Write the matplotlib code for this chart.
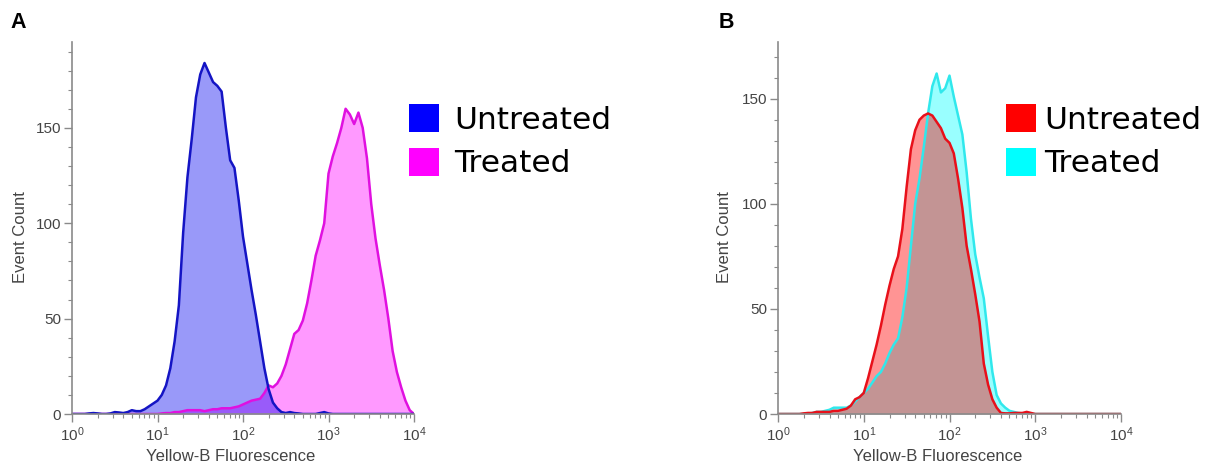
import numpy as np
import matplotlib
matplotlib.use("Agg")
import matplotlib.pyplot as plt
from matplotlib.patches import Patch
from matplotlib.ticker import LogLocator, MultipleLocator, NullFormatter, LogFormatterSciNotation

plt.rcParams['font.family'] = ['Liberation Sans', 'DejaVu Sans']
plt.rcParams['mathtext.fontset'] = 'custom'
plt.rcParams['mathtext.rm'] = 'Liberation Sans'
plt.rcParams['mathtext.it'] = 'Liberation Sans:italic'
plt.rcParams['mathtext.bf'] = 'Liberation Sans:bold'

# ---------------- data ----------------
# histogram channel positions (log10 of fluorescence)
log_bins = [0.00, 0.05, 0.10, 0.15, 0.20, 0.25, 0.30, 0.35, 0.40, 0.45,
            0.50, 0.55, 0.60, 0.65, 0.70, 0.75, 0.80, 0.85, 0.90, 0.95,
            1.00, 1.05, 1.10, 1.15, 1.20, 1.25, 1.30, 1.35, 1.40, 1.45,
            1.50, 1.55, 1.60, 1.65, 1.70, 1.75, 1.80, 1.85, 1.90, 1.95,
            2.00, 2.05, 2.10, 2.15, 2.20, 2.25, 2.30, 2.35, 2.40, 2.45,
            2.50, 2.55, 2.60, 2.65, 2.70, 2.75, 2.80, 2.85, 2.90, 2.95,
            3.00, 3.05, 3.10, 3.15, 3.20, 3.25, 3.30, 3.35, 3.40, 3.45,
            3.50, 3.55, 3.60, 3.65, 3.70, 3.75, 3.80, 3.85, 3.90, 3.95,
            4.00]

# Panel A
a_untreated = [0, 0, 0, 0, 0.3, 0.5, 0.3, 0, 0, 0.3,
               1, 0.8, 0.5, 1, 2, 1.5, 1.5, 2.5, 4, 5.5,
               7, 10, 15, 24, 38, 57, 95, 124, 144, 166,
               178, 184, 179, 174, 172, 169, 150, 133, 129, 112,
               93, 79, 65, 52, 38, 24, 13, 6, 3, 1,
               0.5, 1, 0.5, 0.3, 0, 0, 0, 0, 0.5, 1,
               0.3, 0, 0, 0, 0, 0, 0, 0, 0, 0,
               0, 0, 0, 0, 0, 0, 0, 0, 0, 0,
               0]
a_treated = [0, 0, 0, 0, 0, 0, 0, 0, 0, 0,
             0, 0, 0, 0, 0, 0, 0, 0, 0, 0,
             0, 0.3, 0.5, 0.5, 1, 1, 1.5, 2, 2, 2,
             2, 1.5, 2, 2.5, 2.5, 3, 3, 3, 3.5, 4,
             5, 6, 7, 7.5, 8, 11, 15, 14, 16, 20,
             26, 34, 42, 44, 49, 58, 70, 83, 91, 100,
             126, 135, 142, 150, 160, 157, 152, 158, 150, 134,
             110, 92, 78, 65, 50, 33, 22, 14, 7, 2,
             0]

# Panel B
b_untreated = [0, 0, 0, 0, 0, 0, 0.3, 0.5, 0.5, 1,
               1, 1, 1, 1.5, 1.5, 2, 2.5, 4, 7, 8,
               10, 17, 25, 33, 42, 52, 61, 69, 75, 88,
               108, 126, 135, 140, 142, 143, 142, 139, 136, 131,
               129, 124, 112, 98, 80, 69, 57, 44, 24, 14,
               7, 3, 0.5, 0.3, 0.3, 0.5, 0.5, 0.5, 1, 0.5,
               0, 0, 0, 0, 0, 0, 0, 0, 0, 0,
               0, 0, 0, 0, 0, 0, 0, 0, 0, 0,
               0]
b_treated = [0, 0, 0, 0, 0, 0, 0, 0, 0.5, 1,
             1, 1.5, 2, 3, 3, 3, 3, 4, 6, 8,
             10, 12, 15, 18, 20, 24, 29, 33, 36, 46,
             60, 80, 100, 112, 127, 143, 156, 162, 153, 155,
             161, 151, 142, 133, 115, 93, 76, 65, 55, 37,
             20, 9, 5, 3, 1.5, 1, 0.5, 0.3, 0, 0,
             0, 0, 0, 0, 0, 0, 0, 0, 0, 0,
             0, 0, 0, 0, 0, 0, 0, 0, 0, 0,
             0]

labels = ["Untreated", "Treated"]
x_label = "Yellow-B Fluorescence"
y_label = "Event Count"

# ---------------- figure ----------------
W, H = 1206, 463
fig = plt.figure(figsize=(W / 100, H / 100), dpi=100)

x = 10 ** np.array(log_bins)
axis_gray = '#8a8a8a'
tick_text = '#444444'


def style_axis(ax, ytop):
    ax.set_xscale('log')
    ax.set_xlim(1, 1e4)
    ax.set_ylim(0, ytop)
    for s in ('top', 'right'):
        ax.spines[s].set_visible(False)
    for s in ('left', 'bottom'):
        ax.spines[s].set_color(axis_gray)
        ax.spines[s].set_linewidth(1.2)
    ax.xaxis.set_major_locator(LogLocator(base=10, numticks=10))
    ax.xaxis.set_minor_locator(LogLocator(base=10, subs=np.arange(2, 10), numticks=20))
    ax.xaxis.set_minor_formatter(NullFormatter())
    ax.xaxis.set_major_formatter(LogFormatterSciNotation())
    ax.yaxis.set_major_locator(MultipleLocator(50))
    ax.yaxis.set_minor_locator(MultipleLocator(10))
    ax.tick_params(axis='both', which='major', direction='out', length=6, width=1,
                   color=axis_gray, labelcolor=tick_text, labelsize=11, pad=2)
    ax.tick_params(axis='both', which='minor', direction='out', length=3, width=0.8,
                   color=axis_gray)
    ax.set_xlabel(x_label, fontsize=12, color=tick_text)
    ax.xaxis.set_label_coords(0.465, -0.095)
    ax.set_ylabel(y_label, fontsize=12, color=tick_text)


def draw(ax, y, line_color, fill_color, alpha):
    ax.fill_between(x, y, 0, color=fill_color, alpha=alpha, lw=0)
    ax.plot(x, y, color=line_color, lw=1.8, solid_joinstyle='round')


# Panel A
axA = fig.add_axes([72 / W, 1 - 414 / H, 342 / W, 372 / H])
draw(axA, a_treated, '#e010e0', '#ff00ff', 0.4)
draw(axA, a_untreated, '#1414c4', '#0000f0', 0.4)
style_axis(axA, 195)
axA.yaxis.set_label_coords(-0.129, 0.476)

# Panel B
axB = fig.add_axes([778 / W, 1 - 414 / H, 343 / W, 372 / H])
draw(axB, b_treated, '#30e8ec', '#00ffff', 0.4)
draw(axB, b_untreated, '#e8101a', '#ff0000', 0.42)
style_axis(axB, 177)
axB.yaxis.set_label_coords(-0.134, 0.476)


def legend(ax, colors, x0, y0, textpad):
    handles = [Patch(facecolor=c, edgecolor='none') for c in colors]
    ax.legend(handles, labels, loc='upper left',
              bbox_to_anchor=(x0 / W, 1 - y0 / H), bbox_transform=fig.transFigure,
              frameon=False, prop={'family': 'DejaVu Sans', 'size': 22.5},
              handlelength=0.96, handleheight=1.0, handletextpad=textpad,
              labelspacing=0.42, borderpad=0, borderaxespad=0)


legend(axA, ['#0000ff', '#ff00ff'], 409, 104, 0.5)
legend(axB, ['#ff0000', '#00ffff'], 1006, 104, 0.25)

fig.text(10 / W, 1 - 28 / H, 'A', fontsize=15.5, fontweight='bold', color='black')
fig.text(719 / W, 1 - 28 / H, 'B', fontsize=15.5, fontweight='bold', color='black')

fig.savefig('out.png', dpi=100)
